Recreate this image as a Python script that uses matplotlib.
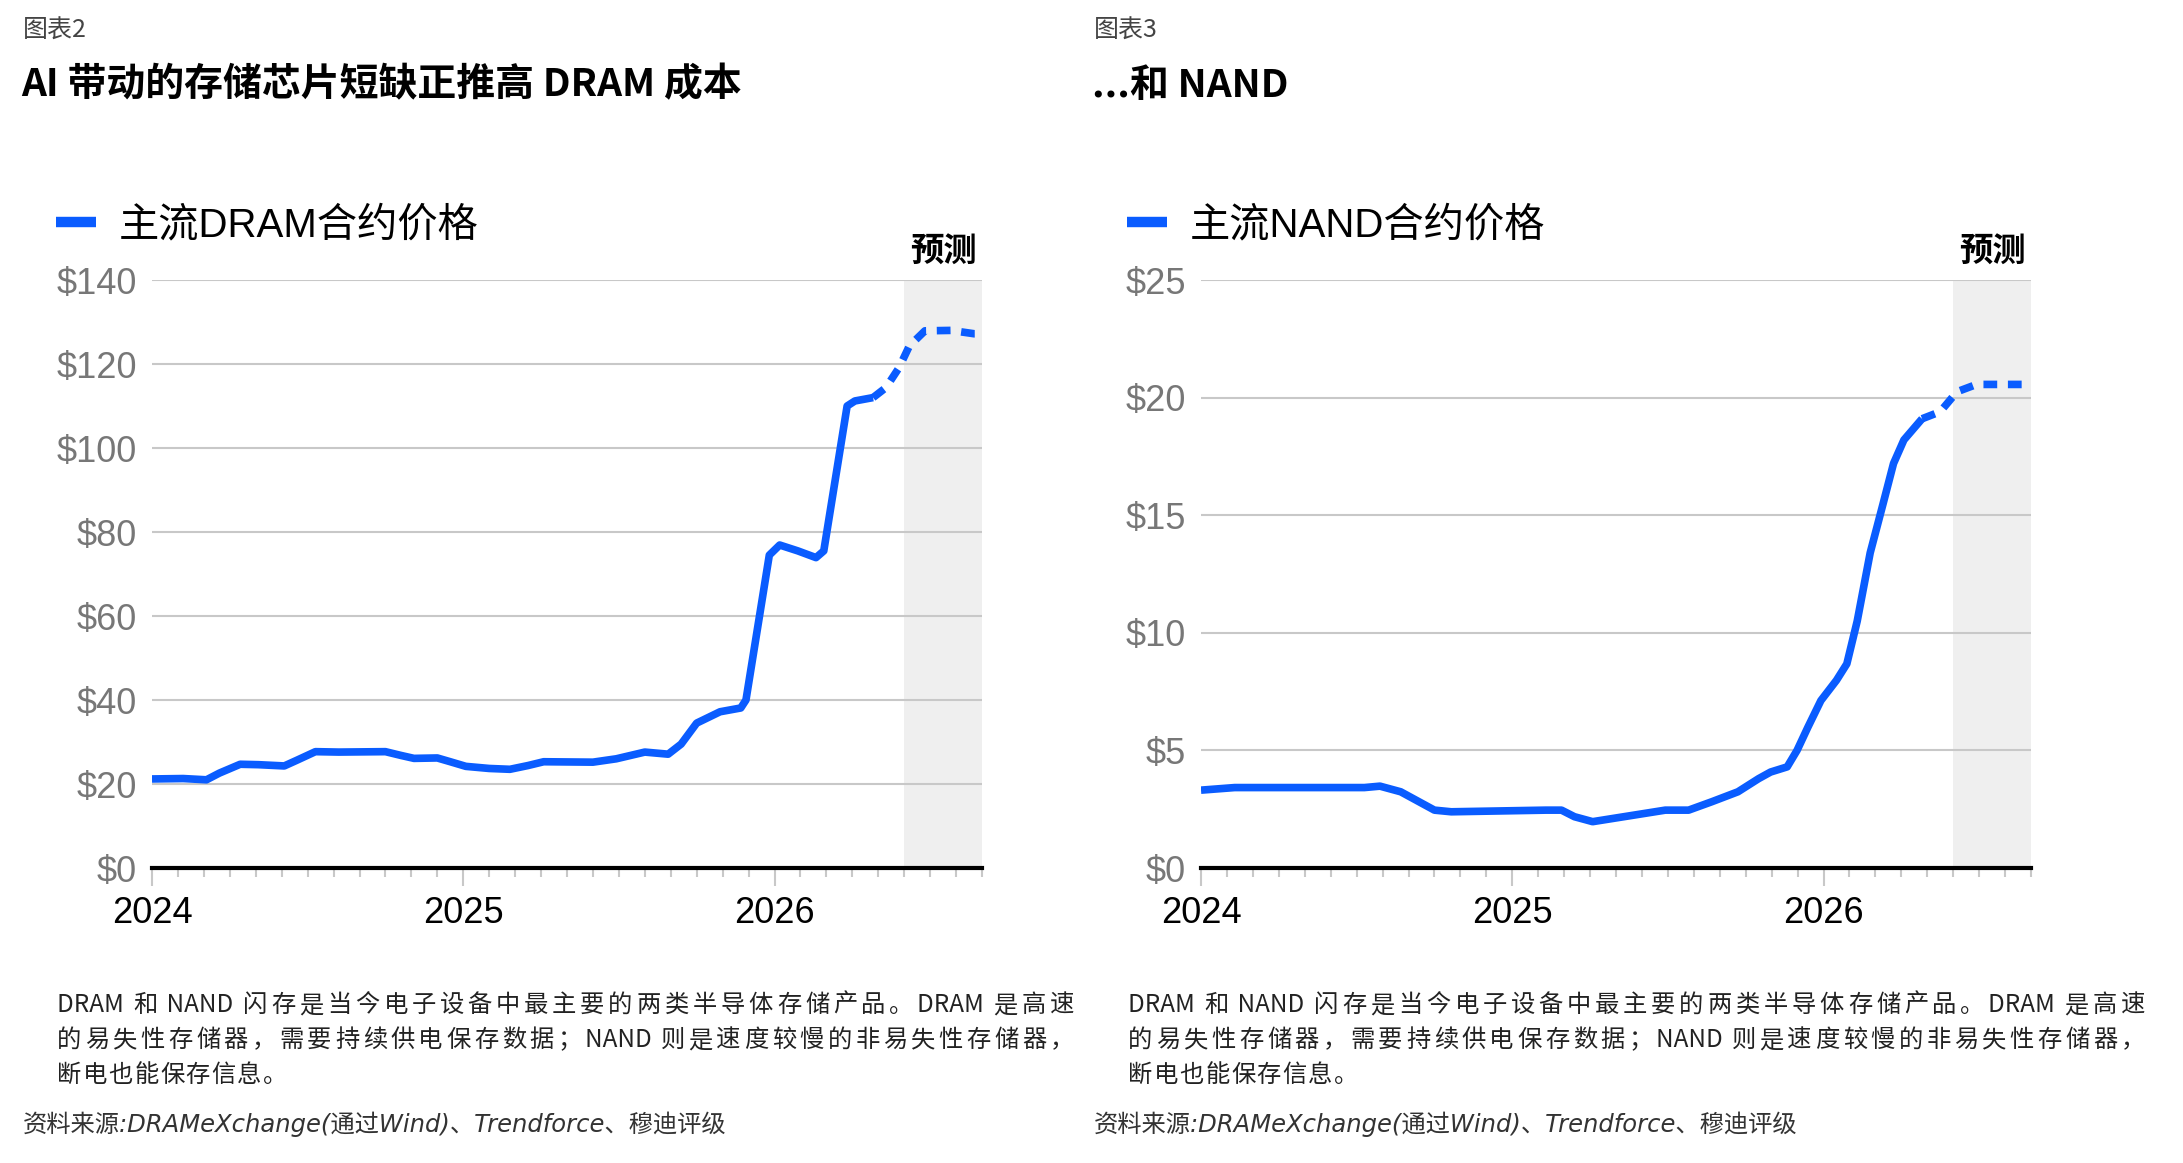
import re

import numpy as np
import matplotlib as mpl
mpl.use('Agg')
import matplotlib.pyplot as plt
from matplotlib.lines import Line2D

W, H = 2183, 1163
BLUE = '#0a5cff'
CJK = ['Noto Sans CJK SC', 'DejaVu Sans']
LEG = ['Liberation Sans', 'Noto Sans CJK SC']
NUM = 'Liberation Sans'

# x values are months after Jan 2024
year_ticks = [0, 12, 24]
year_labels = ['2024', '2025', '2026']
x_end = 32
forecast_start = 29

dram_m = [0, 1.2, 2.1, 2.6, 3.4, 4.1, 5.1, 5.6, 6.3, 7.2, 9.0, 9.6, 10.1, 11.0, 11.5,
          12.1, 13.0, 13.8, 14.5, 15.1, 17.0, 17.9, 19.0, 19.9, 20.4, 21.0, 21.9,
          22.7, 22.9, 23.8, 24.2, 24.9, 25.6, 25.9, 26.8, 27.1, 27.8]
dram_v = [21.2, 21.3, 21.0, 22.6, 24.7, 24.6, 24.3, 25.7, 27.7, 27.6, 27.7, 26.8, 26.1,
          26.2, 25.3, 24.2, 23.7, 23.5, 24.4, 25.3, 25.2, 26.0, 27.6, 27.1, 29.5, 34.5,
          37.2, 38.1, 40.0, 74.5, 76.9, 75.5, 73.9, 75.5, 110.0, 111.2, 112.0]
dram_fc_m = [27.8, 28.3, 28.8, 29.2, 29.8, 30.8, 31.7, 32.0]
dram_fc_v = [112.0, 114.4, 119.1, 124.3, 127.9, 128.0, 127.2, 127.2]

nand_m = [0, 1.3, 3.4, 6.3, 6.9, 7.7, 8.4, 9.0, 9.65, 13.3, 13.9, 14.4, 15.1, 16.3,
          17.9, 18.8, 19.7, 20.7, 21.5, 21.96, 22.6, 22.98, 23.4, 23.9, 24.5, 24.9,
          25.3, 25.8, 26.3, 26.7, 27.1, 27.8]
nand_v = [3.31, 3.42, 3.42, 3.42, 3.48, 3.24, 2.82, 2.46, 2.39, 2.46, 2.46, 2.18, 1.97,
          2.18, 2.46, 2.46, 2.82, 3.24, 3.80, 4.08, 4.30, 5.0, 5.99, 7.12, 7.98, 8.68,
          10.5, 13.4, 15.5, 17.2, 18.2, 19.1]
nand_fc_m = [27.8, 28.5, 29.15, 29.9, 32.0]
nand_fc_v = [19.1, 19.4, 20.25, 20.56, 20.56]

note_lines = ['DRAM 和 NAND 闪存是当今电子设备中最主要的两类半导体存储产品。DRAM 是高速',
              '的易失性存储器，需要持续供电保存数据；NAND 则是速度较慢的非易失性存储器，',
              '断电也能保存信息。']
source = '资料来源:DRAMeXchange(通过Wind)、Trendforce、穆迪评级'


def fx(p):
    return p / W


def fy(p):
    return 1 - p / H


fig = plt.figure(figsize=(W / 100, H / 100), dpi=100)
renderer = fig.canvas.get_renderer()


def spaced_line(x0, y0, line, width, last=False, **kw):
    # the notes are set justified with loose character spacing
    tokens = re.findall(r' ?[A-Za-z]+ ?|.', line)
    widths = []
    for t in tokens:
        probe = fig.text(0, 0, t.replace(' ', '\u00a0'), **kw)
        widths.append(probe.get_window_extent(renderer).width)
        probe.remove()
    natural = sum(widths)
    gap = 1.5 if last else (width - natural) / (len(tokens) - 1)
    x = x0
    for t, w in zip(tokens, widths):
        fig.text(fx(x), fy(y0), t.replace(' ', '\u00a0'), va='center', ha='left', **kw)
        x += w + gap


def panel(ax_left, off, fig_no, title, label, ymax, ystep, am, av, fm, fv):
    ax = fig.add_axes([fx(ax_left), fy(868), 830 / W, 588 / H])
    ax.axvspan(forecast_start, x_end, color='#efefef', lw=0, zorder=0.2)
    ax.plot(am, av, color=BLUE, lw=5.5, solid_joinstyle='round', solid_capstyle='butt', zorder=3)
    ax.plot(fm, fv, color=BLUE, lw=5.5, ls=(0, (1.8, 1.4)), dash_capstyle='butt', zorder=3)

    ax.set_xlim(0, x_end)
    ax.set_ylim(0, ymax)
    yt = np.arange(0, ymax + 1, ystep)
    ax.set_yticks(yt)
    ax.set_yticklabels(['$%d' % v for v in yt], fontfamily=NUM)
    ax.set_xticks(year_ticks)
    ax.set_xticklabels(year_labels, fontfamily=NUM)
    ax.set_xticks(np.arange(0, x_end + 1), minor=True)
    ax.tick_params(axis='x', which='major', length=13, width=1.5, color='#c8c8c8',
                   pad=7, labelsize=26, labelcolor='black')
    ax.tick_params(axis='x', which='minor', length=6.5, width=1.5, color='#c8c8c8')
    ax.tick_params(axis='y', length=0, pad=11, labelsize=26, labelcolor='#777777')
    ax.yaxis.grid(True, color='#c8c8c8', lw=1.5, zorder=0.5)
    ax.set_axisbelow(True)
    for s in ['left', 'right', 'top']:
        ax.spines[s].set_visible(False)
    ax.spines['bottom'].set_linewidth(3)
    ax.spines['bottom'].set_color('black')
    ax.spines['bottom'].set_zorder(4)

    ax.annotate('预测', xy=((forecast_start + x_end) / 2, 1), xycoords=('data', 'axes fraction'),
                xytext=(0, 20), textcoords='offset points', ha='center', va='center',
                fontsize=24, fontweight='bold', family=CJK)

    handle = Line2D([], [], color=BLUE, lw=7.5, solid_capstyle='butt')
    ax.legend([handle], [label], loc='center left', bbox_to_anchor=(fx(56 + off), fy(225)),
              bbox_transform=fig.transFigure, frameon=False, handlelength=1.0,
              handletextpad=0.55, borderpad=0, borderaxespad=0,
              prop={'family': LEG, 'size': 29})

    fig.text(fx(23 + off), fy(31), fig_no, fontsize=18, color='#444444', family=CJK, va='center')
    fig.text(fx(21 + off), fy(85), title, fontsize=28, fontweight='bold', family=CJK, va='center')
    for i, line in enumerate(note_lines):
        spaced_line(57 + off, 1005 + 35 * i, line, 1017, last=(i == len(note_lines) - 1),
                    fontsize=17.5, color='#222222', family=CJK)
    fig.text(fx(23 + off), fy(1124), source, fontsize=17.5, color='#333333', style='italic',
             family=['DejaVu Sans', 'Noto Sans CJK SC'], va='center')
    return ax


panel(152, 0, '图表2', 'AI 带动的存储芯片短缺正推高 DRAM 成本', '主流DRAM合约价格',
      140, 20, dram_m, dram_v, dram_fc_m, dram_fc_v)
panel(1201, 1071, '图表3', '...和 NAND', '主流NAND合约价格',
      25, 5, nand_m, nand_v, nand_fc_m, nand_fc_v)

fig.savefig('out.png', dpi=100)
